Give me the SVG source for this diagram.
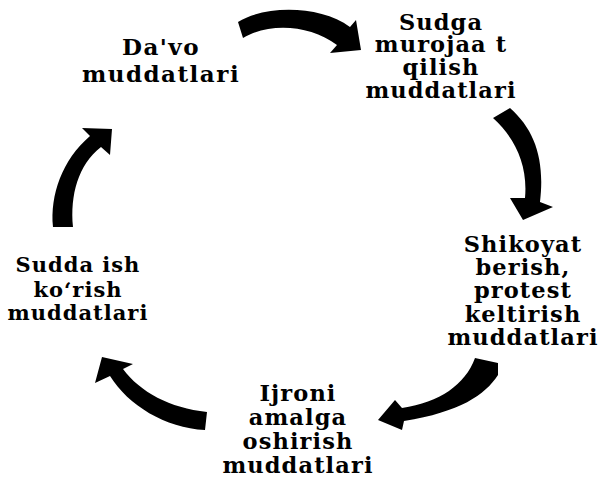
<svg xmlns="http://www.w3.org/2000/svg" width="600" height="478" viewBox="0 0 600 478">
<style>
.t{font-family:"DejaVu Serif","Liberation Serif",serif;font-weight:bold;fill:#000;text-anchor:middle}
.a{fill:#000;stroke:none}
.n1{font-size:23px;letter-spacing:1.5px}
.n2{font-size:22.5px;letter-spacing:1.1px}
.n5{font-size:21px;letter-spacing:1px}
</style>
<rect width="600" height="478" fill="#fff"/>
<g id="connectors">
<path class="a" d="M238,22 C265,5 320,5 350,27 L356,20 L361,50 L330,53 L337,45 C310,25 270,22 243,38 Z"/>
<path class="a" d="M493,118 L510,108 C535,130 545,160 540,202 L553,207 L523,220 L510,198 L525,198 C528,165 515,138 493,118 Z"/>
<path class="a" d="M475,358 L498,363 L498,375 C485,395 460,412 404,421 L402,430 L378,420 L395,400 L402,408 C440,402 465,385 475,358 Z"/>
<path class="a" d="M207,412 L205,430 C165,428 128,405 110,376 L95,383 L102,357 L133,364 L123,369 C140,392 170,408 207,412 Z"/>
<path class="a" d="M53,227 L73,227 C70,195 78,165 101,147 L110,155 L112,129 L82,128 L90,136 C62,160 50,195 53,227 Z"/>
</g>
<g id="node-davo">
<text class="t n1" x="161" y="55">Da'vo</text>
<text class="t n1" x="161" y="82">muddatlari</text>
</g>
<g id="node-sudga">
<text class="t n2" x="441" y="30">Sudga</text>
<text class="t n2" x="441" y="52">murojaa t</text>
<text class="t n2" x="441" y="75">qilish</text>
<text class="t n2" x="441" y="98">muddatlari</text>
</g>
<g id="node-shikoyat">
<text class="t n2" x="523" y="252">Shikoyat</text>
<text class="t n2" x="523" y="275">berish,</text>
<text class="t n2" x="523" y="298">protest</text>
<text class="t n2" x="523" y="322">keltirish</text>
<text class="t n2" x="523" y="345">muddatlari</text>
</g>
<g id="node-ijroni">
<text class="t n2" x="298" y="401">Ijroni</text>
<text class="t n2" x="298" y="425">amalga</text>
<text class="t n2" x="298" y="449">oshirish</text>
<text class="t n2" x="298" y="473">muddatlari</text>
</g>
<g id="node-sudda">
<text class="t n5" x="78" y="272">Sudda ish</text>
<text class="t n5" x="78" y="297">ko‘rish</text>
<text class="t n5" x="78" y="320">muddatlari</text>
</g>
</svg>
